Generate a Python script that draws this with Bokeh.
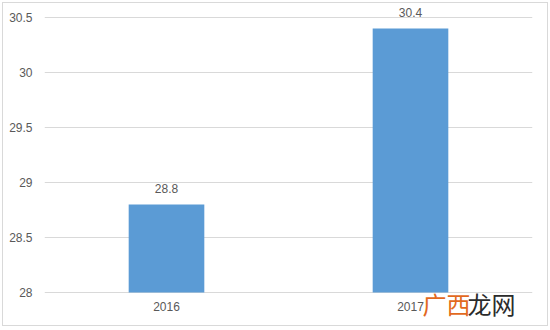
from bokeh.plotting import figure
from bokeh.models import Range1d, FactorRange, ColumnDataSource, Label, FixedTicker
from bokeh.core.properties import value
from bokeh.embed import file_html
from bokeh.resources import INLINE

years = ["2016", "2017"]
values = [28.8, 30.4]
y_ticks = [28, 28.5, 29, 29.5, 30, 30.5]
y_tick_labels = ["28", "28.5", "29", "29.5", "30", "30.5"]

src = ColumnDataSource(dict(x=years, top=values, label=[f"{v:.1f}" for v in values]))
cat_src = ColumnDataSource(dict(x=years, y=[y_ticks[0]] * len(years)))

p = figure(width=546, height=324, x_range=FactorRange(*years), y_range=Range1d(27.7, 30.618),
           output_backend="svg", toolbar_location=None,
           min_border_left=41, min_border_right=17, min_border_top=1, min_border_bottom=2)
p.styles = {"border": "1px solid #d9d9d9", "margin-left": "2px", "margin-top": "2px"}
p.outline_line_color = None
p.background_fill_color = "white"

p.vbar(x="x", top="top", bottom=y_ticks[0], width=0.31, source=src, fill_color="#5B9BD5", line_color=None)
p.text(x="x", y="top", text="label", source=src, text_align="center", text_baseline="bottom",
       y_offset=-11, text_font=value("Liberation Sans"), text_font_size="12px", text_color="#595959")
p.text(x="x", y="y", text="x", source=cat_src, text_align="center", text_baseline="top",
       y_offset=10, text_font=value("Liberation Sans"), text_font_size="12px", text_color="#595959")

p.xaxis.visible = False
p.yaxis.ticker = FixedTicker(ticks=y_ticks)
p.yaxis.major_label_overrides = dict(zip(y_ticks, y_tick_labels))
p.yaxis.axis_line_color = None
p.yaxis.major_tick_line_color = None
p.yaxis.minor_tick_line_color = None
p.yaxis.major_label_text_font = "Liberation Sans"
p.yaxis.major_label_text_font_size = "12px"
p.yaxis.major_label_text_color = "#595959"
p.yaxis.major_label_standoff = 6
p.xgrid.grid_line_color = None
p.ygrid.grid_line_color = "#d9d9d9"
p.ygrid.grid_line_width = 1

p.add_layout(Label(x=378, y=22, x_units="screen", y_units="screen", text="广西",
                   text_font="Noto Sans CJK SC", text_font_size="24px", text_color="#E2691E",
                   text_baseline="middle"))
p.add_layout(Label(x=423, y=22, x_units="screen", y_units="screen", text="龙网",
                   text_font="Noto Sans CJK SC", text_font_size="24px", text_color="#2b2b2b",
                   text_baseline="middle"))

open("out.html", "w").write(file_html(p, INLINE))
